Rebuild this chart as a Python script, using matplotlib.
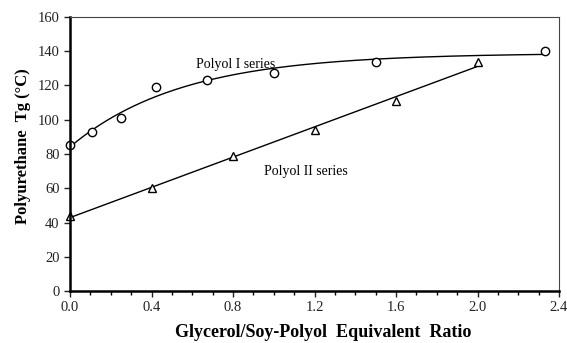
import numpy as np
import matplotlib.pyplot as plt
from matplotlib.ticker import MultipleLocator

plt.rcParams['font.family'] = ['Liberation Serif', 'DejaVu Serif']

# Polyol I series
ratio_1 = [0.0, 0.11, 0.25, 0.42, 0.67, 1.0, 1.5, 2.33]
tg_1 = [85, 93, 101, 119, 123, 127.5, 134, 140]

# Polyol II series
ratio_2 = [0.0, 0.4, 0.8, 1.2, 1.6, 2.0]
tg_2 = [44, 60, 79, 94, 111, 134]


def sat_fit(x, y):
    # least squares fit of y = a - b*exp(-c*x), scanning c
    x = np.asarray(x, float)
    y = np.asarray(y, float)
    best = None
    for c in np.linspace(0.2, 5, 500):
        A = np.column_stack([np.ones_like(x), -np.exp(-c * x)])
        coef, res, *_ = np.linalg.lstsq(A, y, rcond=None)
        err = np.sum((A @ coef - y) ** 2)
        if best is None or err < best[0]:
            best = (err, coef[0], coef[1], c)
    _, a, b, c = best
    return lambda t: a - b * np.exp(-c * t)


fig = plt.figure(figsize=(5.67, 3.43), dpi=100)
ax = fig.add_axes([70 / 567, 52 / 343, 489 / 567, 274 / 343])

# trend lines
f1 = sat_fit(ratio_1, tg_1)
xs1 = np.linspace(0, max(ratio_1), 200)
ax.plot(xs1, f1(xs1), color='black', lw=1)
c2 = np.polyfit(ratio_2, tg_2, 1)
xs2 = np.array([0, max(ratio_2)])
ax.plot(xs2, np.polyval(c2, xs2), color='black', lw=1)

ax.plot(ratio_1, tg_1, 'o', ms=6, mfc='white', mec='black', mew=1, clip_on=False)
ax.plot(ratio_2, tg_2, '^', ms=6, mfc='white', mec='black', mew=1, clip_on=False)

ax.text(0.62, 132.5, 'Polyol I series', fontsize=10, va='center')
ax.text(0.95, 70, 'Polyol II series', fontsize=10, va='center')

ax.set_xlim(0, 2.4)
ax.set_ylim(0, 160)
ax.xaxis.set_major_locator(MultipleLocator(0.4))
ax.xaxis.set_minor_locator(MultipleLocator(0.1))
ax.yaxis.set_major_locator(MultipleLocator(20))
ax.set_xticklabels([f'{v:.1f}' for v in ax.get_xticks()])
ax.tick_params(labelsize=10.5, direction='out', length=4, width=1, colors='#222222')
ax.tick_params(which='minor', length=3, width=1)

for s in ['left', 'bottom']:
    ax.spines[s].set_linewidth(1.8)
for s in ['top', 'right']:
    ax.spines[s].set_linewidth(0.8)
    ax.spines[s].set_color('#444444')

ax.set_xlabel('Glycerol/Soy-Polyol  Equivalent  Ratio', fontsize=13,
              fontweight='bold', va='center')
ax.xaxis.set_label_coords(0.518, -0.153)
ax.set_ylabel('Polyurethane  Tg (\u00b0C)', fontsize=12,
              fontweight='bold', va='center')
ax.yaxis.set_label_coords(-0.096, 0.529)

fig.savefig('out.png', dpi=100)
